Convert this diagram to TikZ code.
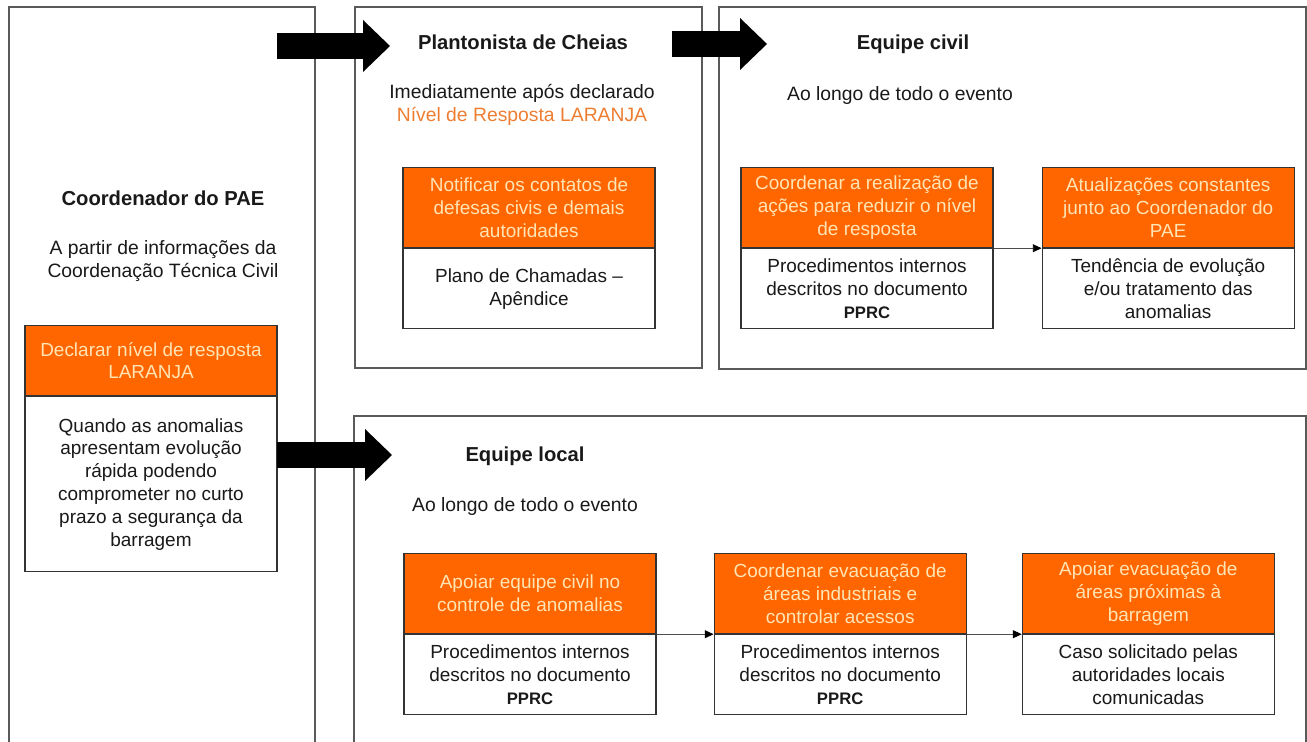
\documentclass[tikz,border=0pt]{standalone}
\usepackage{fontspec}
\setmainfont{Liberation Sans}
\usetikzlibrary{positioning,arrows.meta}

\definecolor{laranja}{RGB}{255,102,0}
\definecolor{headText}{RGB}{255,228,180}
\definecolor{levelText}{RGB}{237,125,49}
\definecolor{laneLine}{RGB}{90,90,90}

\newcommand{\pprc}{{\fontsize{9.5}{13}\selectfont\bfseries PPRC}}

\begin{document}
\begin{tikzpicture}[x=0.02cm, y=-0.02cm]

    %
    % Styles for lanes, task boxes and flows
    %
    \tikzstyle{lane} = [draw=laneLine, line width=1.1pt];
    \tikzstyle{taskHead} = [draw=black!80, line width=0.7pt, rectangle, fill=laranja, align=center,
                            text=headText, minimum width=5.04cm, minimum height=1.6cm, inner sep=1pt,
                            font={\fontsize{10.8}{13}\selectfont}];
    \tikzstyle{taskBody} = [taskHead, fill=white, text=black!90];
    \tikzstyle{laneTitle} = [font={\fontsize{11.5}{14}\selectfont\bfseries}, align=center, text=black!90];
    \tikzstyle{laneNote} = [font={\fontsize{11}{13}\selectfont}, align=center, text=black!90];
    \tikzstyle{bigFlow} = [line width=0.52cm, -{Triangle[length=0.54cm, width=1.04cm, line width=0pt]}];
    \tikzstyle{smallFlow} = [draw=black!70, line width=0.5pt, -{Triangle[length=5pt, width=4.5pt, color=black]}];

    \clip (0,0) rectangle (1307,742);

    %
    % Lanes
    %
    \draw[lane] (9,7) rectangle (315,760);
    \draw[lane] (355,7) rectangle (702,368);
    \draw[lane] (719,7) rectangle (1306,369);
    \draw[lane] (354,416) rectangle (1306,760);

    %
    % Coordenador do PAE
    %
    \node[laneTitle] (paeTitle) at (163,198) {Coordenador do PAE};
    \node[laneNote] (paeNote) at (163,261) {A partir de informações da\\Coordenação Técnica Civil};
    \node[taskHead, minimum height=1.4cm, anchor=north] (declarar) at (151,325)
      {Declarar nível de resposta\\LARANJA};
    \node[taskBody, minimum height=3.5cm, below=0pt of declarar] (declararWhen)
      {Quando as anomalias\\apresentam evolução\\rápida podendo\\comprometer no curto\\prazo a segurança da\\barragem};

    %
    % Plantonista de Cheias
    %
    \node[laneTitle] (plantTitle) at (523,42) {Plantonista de Cheias};
    \node[laneNote] (plantNote) at (522,105)
      {Imediatamente após declarado\\\textcolor{levelText}{Nível de Resposta LARANJA}};
    \node[taskHead, anchor=north] (notificar) at (529,167)
      {Notificar os contatos de\\defesas civis e demais\\autoridades};
    \node[taskBody, below=0pt of notificar] (notificarHow) {Plano de Chamadas –\\Apêndice};

    %
    % Equipe civil
    %
    \node[laneTitle] (civilTitle) at (913,44) {Equipe civil};
    \node[laneNote] (civilNote) at (900,96) {Ao longo de todo o evento};
    \node[taskHead, anchor=north] (civilCoord) at (867,167)
      {Coordenar a realização de\\ações para reduzir o nível\\de resposta};
    \node[taskBody, below=0pt of civilCoord] (civilCoordHow)
      {Procedimentos internos\\descritos no documento\\\pprc};
    \node[taskHead, right=0.96cm of civilCoord] (civilUpdate)
      {Atualizações constantes\\junto ao Coordenador do\\PAE};
    \node[taskBody, below=0pt of civilUpdate] (civilUpdateWhat)
      {Tendência de evolução\\e/ou tratamento das\\anomalias};

    %
    % Equipe local
    %
    \node[laneTitle] (localTitle) at (525,456) {Equipe local};
    \node[laneNote] (localNote) at (525,507) {Ao longo de todo o evento};
    \node[taskHead, anchor=north] (localSupport) at (530,553)
      {Apoiar equipe civil no\\controle de anomalias};
    \node[taskBody, below=0pt of localSupport] (localSupportHow)
      {Procedimentos internos\\descritos no documento\\\pprc};
    \node[taskHead, right=1.14cm of localSupport] (localEvac)
      {Coordenar evacuação de\\áreas industriais e\\controlar acessos};
    \node[taskBody, below=0pt of localEvac] (localEvacHow)
      {Procedimentos internos\\descritos no documento\\\pprc};
    \node[taskHead, right=1.1cm of localEvac] (localNear)
      {Apoiar evacuação de\\áreas próximas à\\barragem};
    \node[taskBody, below=0pt of localNear] (localNearWhen)
      {Caso solicitado pelas\\autoridades locais\\comunicadas};

    %
    % Flows between lanes and tasks
    %
    \coordinate (paeOutTop) at (277,46);
    \coordinate (plantIn) at (390,46);
    \coordinate (plantOut) at (672,44);
    \coordinate (civilIn) at (767,44);
    \coordinate (paeOutLow) at (277,455);
    \coordinate (localIn) at (392,455);

    \draw[bigFlow] (paeOutTop) -- (plantIn);
    \draw[bigFlow] (plantOut) -- (civilIn);
    \draw[bigFlow] (paeOutLow) -- (localIn);

    \draw[smallFlow] (civilCoord.south east) -- (civilUpdate.south west);
    \draw[smallFlow] (localSupport.south east) -- (localEvac.south west);
    \draw[smallFlow] (localEvac.south east) -- (localNear.south west);
  \end{tikzpicture}
\end{document}
